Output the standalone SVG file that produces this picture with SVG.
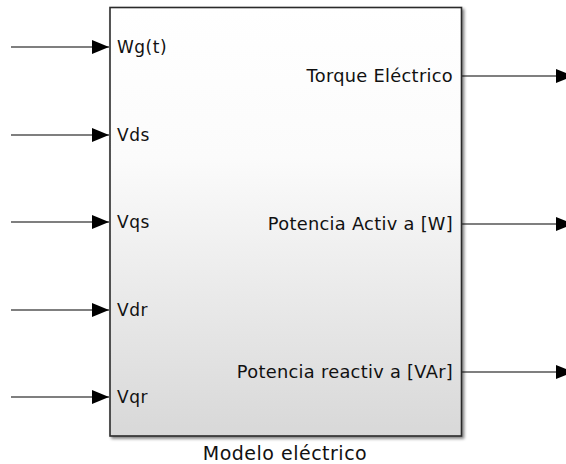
<svg xmlns="http://www.w3.org/2000/svg" width="566" height="464" viewBox="0 0 566 464">
<style>
.in{font-family:"DejaVu Sans",sans-serif;font-size:17px;letter-spacing:0.5px;fill:#111}
.out{font-family:"DejaVu Sans",sans-serif;font-size:17.8px;letter-spacing:0.3px;fill:#111}
.cap{font-family:"DejaVu Sans",sans-serif;font-size:19px;letter-spacing:0.5px;fill:#111}
.conn{stroke:#000;stroke-width:1.2;fill:none}
</style>
<defs>
<linearGradient id="g" x1="0" y1="0" x2="0" y2="1">
<stop offset="0" stop-color="#ffffff"/>
<stop offset="0.35" stop-color="#fbfbfb"/>
<stop offset="1" stop-color="#d8d8d8"/>
</linearGradient>
<marker id="ah" markerWidth="17" markerHeight="14" refX="17" refY="7" orient="auto" markerUnits="userSpaceOnUse">
<path d="M0,0 L17,7 L0,14 Z" fill="#000"/>
</marker>
<filter id="sh" x="-5%" y="-5%" width="110%" height="110%">
<feGaussianBlur in="SourceAlpha" stdDeviation="1.5"/>
<feOffset dx="2" dy="2"/>
<feComponentTransfer><feFuncA type="linear" slope="0.5"/></feComponentTransfer>
<feMerge><feMergeNode/><feMergeNode in="SourceGraphic"/></feMerge>
</filter>
</defs>
<g id="connectors">
<line class="conn" x1="11" y1="47" x2="109" y2="47" marker-end="url(#ah)"/>
<line class="conn" x1="11" y1="135" x2="109" y2="135" marker-end="url(#ah)"/>
<line class="conn" x1="11" y1="222" x2="109" y2="222" marker-end="url(#ah)"/>
<line class="conn" x1="11" y1="310" x2="109" y2="310" marker-end="url(#ah)"/>
<line class="conn" x1="11" y1="397" x2="109" y2="397" marker-end="url(#ah)"/>
<line class="conn" x1="462" y1="76" x2="573" y2="76" marker-end="url(#ah)"/>
<line class="conn" x1="462" y1="224" x2="573" y2="224" marker-end="url(#ah)"/>
<line class="conn" x1="462" y1="372" x2="573" y2="372" marker-end="url(#ah)"/>
</g>
<g id="modelo">
<rect x="110" y="7.5" width="351.5" height="428.5" fill="url(#g)" stroke="#2a2a2a" stroke-width="1.6" filter="url(#sh)"/>
<text class="in" x="117" y="53">Wg(t)</text>
<text class="in" x="117" y="141">Vds</text>
<text class="in" x="117" y="228">Vqs</text>
<text class="in" x="117" y="316">Vdr</text>
<text class="in" x="117" y="403">Vqr</text>
<text class="out" x="453" y="82" text-anchor="end">Torque Eléctrico</text>
<text class="out" x="453" y="230" text-anchor="end">Potencia Activ a [W]</text>
<text class="out" x="453" y="378" text-anchor="end">Potencia reactiv a [VAr]</text>
<text class="cap" x="285" y="460" text-anchor="middle">Modelo eléctrico</text>
</g>
</svg>
